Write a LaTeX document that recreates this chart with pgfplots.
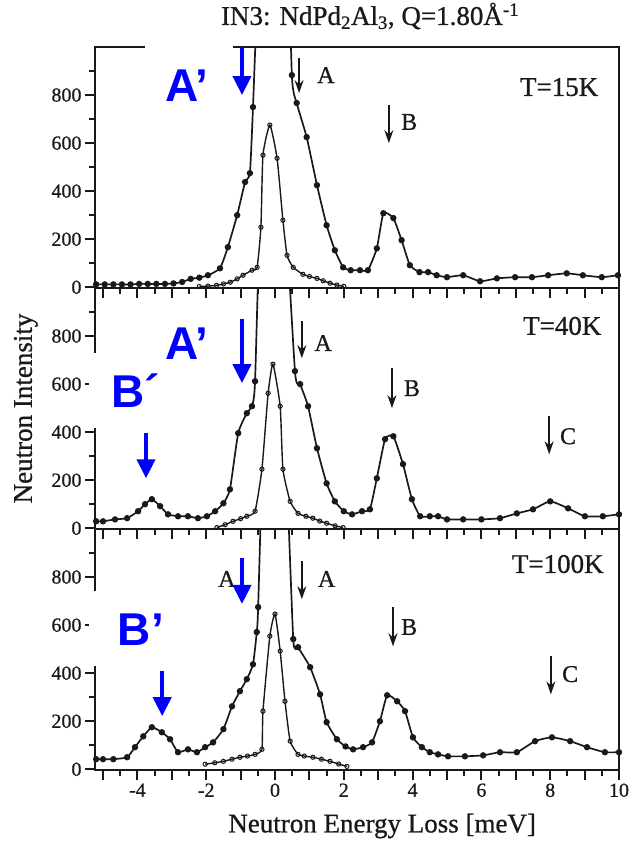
\documentclass[border=0pt]{standalone}
\usepackage{fontspec}
\setmainfont{Liberation Serif}[UprightFeatures={FakeBold=0.8}]
\newfontfamily\sansb{Liberation Sans}
\usepackage{pgfplots}
\pgfplotsset{compat=1.18}
\usetikzlibrary{arrows.meta}
\definecolor{arrblue}{RGB}{0,0,255}
\definecolor{ink}{RGB}{25,25,25}
\newcommand\fs[1]{\fontsize{#1}{#1}\selectfont}

\pgfplotsset{
  panel/.style={
    scale only axis, width=524bp, height=241bp,
    xmin=-5.233, xmax=10, ymin=-3, ymax=1000,
    axis line style={line width=1.9bp, ink},
    xtick={-5,-4,...,10}, minor xtick={-4.5,-3.5,...,9.5},
    xticklabels={,-4,,-2,,0,,2,,4,,6,,8,,10},
    ytick={0,200,...,800}, minor ytick={100,300,...,900},
    xtick align=outside, ytick align=outside,
    xtick pos=left, ytick pos=left,
    major tick length=10bp, minor tick length=6bp,
    every tick/.append style={line width=1.9bp, ink},
    ticklabel style={font=\fs{20bp}, text=ink},
    /pgf/number format/assume math mode=true,
    anchor=south west,
  },
  full/.style={line width=1.7bp, ink, smooth, tension=0.3, mark=*, mark size=2.3bp, mark options={solid, fill=ink}},
  open/.style={line width=1.4bp, ink, smooth, tension=0.3, mark=o, mark size=2.1bp, mark options={solid, line width=1bp, fill=white}},
}
\tikzset{
  barr/.style={-{Stealth[length=13bp,width=9bp]}, line width=1.5bp, ink},
  lbl/.style={font=\fs{24bp}, text=ink},
  tlbl/.style={font=\fs{27bp}, text=ink},
}

\begin{document}
\begin{tikzpicture}
\useasboundingbox (-95bp,-72bp) rectangle (540bp,770bp);

% ---------- bottom: T=100K ----------
\begin{axis}[panel, at={(0bp,0bp)},
  xlabel={Neutron Energy Loss [meV]},
  xlabel style={font=\fs{27bp}, text=ink, at={(axis description cs:0.548,0)}, anchor=center, yshift=-56bp}]
\addplot[full] coordinates {
(-5.2,42) (-5.0,42) (-4.7,42) (-4.3,50) (-4.07,92) (-3.83,137) (-3.58,175) (-3.29,154)
(-3.05,125) (-2.82,71) (-2.53,83) (-2.27,71) (-2.03,92) (-1.8,112) (-1.5,167) (-1.25,262)
(-1.02,325) (-0.82,375) (-0.64,437) (-0.53,571) (-0.49,675) (-0.3,1600) (0,2500) (0.3,1400)
(0.53,542) (0.67,508) (1.02,425) (1.31,312) (1.5,196) (1.8,125) (2.05,95) (2.27,83)
(2.56,92) (2.82,112) (3.05,200) (3.26,308) (3.55,283) (3.78,242) (4.01,133) (4.27,92)
(4.5,71) (4.74,62) (5.03,54) (5.52,54) (6.05,58) (6.54,71) (7.03,71) (7.56,117)
(8.05,133) (8.58,117) (9.07,92) (9.59,71) (10.0,71)};
\addplot[open] coordinates {
(-2.03,21) (-1.75,27) (-1.5,33) (-1.25,42) (-1.02,50) (-0.8,55) (-0.58,62) (-0.38,83)
(-0.35,242) (-0.15,554) (0,646) (0.15,492) (0.29,283) (0.44,117) (0.67,62) (0.85,55)
(1.1,50) (1.35,42) (1.6,33) (1.85,22) (2.09,12)};
\draw[barr] (axis cs:0.78,867) -- (axis cs:0.78,708);
\node[lbl] at (axis cs:1.5,792) {A};
\node[lbl] at (axis cs:-1.4,792) {A};
\draw[barr] (axis cs:3.43,675) -- (axis cs:3.43,512);
\node[lbl] at (axis cs:3.9,592) {B};
\draw[barr] (axis cs:8.02,471) -- (axis cs:8.02,312);
\node[lbl] at (axis cs:8.58,396) {C};
\node[tlbl] at (axis cs:8.22,854) {T=100K};
\coordinate (bbox1) at (axis cs:-5.4,742);
\coordinate (bbox2) at (axis cs:-2.53,429);
\coordinate (bBt) at (axis cs:-3.9,583);
\coordinate (bBa1) at (axis cs:-3.28,408);
\coordinate (bBa2) at (axis cs:-3.28,221);
\coordinate (bAa1) at (axis cs:-0.96,879);
\coordinate (bAa2) at (axis cs:-0.96,688);
\end{axis}

% ---------- middle: T=40K ----------
\begin{axis}[panel, at={(0bp,241bp)}, xticklabels={},
  ylabel={Neutron Intensity},
  ylabel style={font=\fs{27bp}, text=ink, at={(axis description cs:-0.132,0.5)}, anchor=center}]
\addplot[full] coordinates {
(-5.2,29) (-5.0,29) (-4.65,37) (-4.3,42) (-3.98,71) (-3.78,100) (-3.58,121) (-3.34,92)
(-3.11,58) (-2.82,50) (-2.53,50) (-2.24,42) (-1.98,50) (-1.74,71) (-1.5,104) (-1.31,162)
(-1.07,396) (-0.82,479) (-0.67,508) (-0.58,612) (-0.4,1500) (-0.1,2500) (0.2,1600)
(0.58,654) (0.73,600) (0.96,508) (1.22,333) (1.5,187) (1.74,112) (2.0,71) (2.24,58)
(2.53,71) (2.76,79) (2.96,208) (3.2,371) (3.44,383) (3.72,267) (3.98,121) (4.22,50)
(4.5,50) (4.74,50) (5.0,37) (5.47,37) (6.0,37) (6.54,42) (7.03,62) (7.5,79) (8.0,112)
(8.52,83) (9.01,50) (9.53,50) (10.0,58)};
\addplot[open] coordinates {
(-1.69,3) (-1.45,15) (-1.22,29) (-1.0,40) (-0.82,50) (-0.58,71) (-0.38,246) (-0.2,562)
(-0.06,683) (0.15,508) (0.23,246) (0.44,112) (0.67,62) (0.9,50) (1.1,42) (1.3,30)
(1.5,21) (1.75,10) (1.98,3)};
\draw[barr] (axis cs:0.78,862) -- (axis cs:0.78,708);
\node[lbl] at (axis cs:1.4,771) {A};
\draw[barr] (axis cs:3.4,667) -- (axis cs:3.4,500);
\node[lbl] at (axis cs:3.98,583) {B};
\draw[barr] (axis cs:7.97,467) -- (axis cs:7.97,308);
\node[lbl] at (axis cs:8.52,383) {C};
\node[tlbl] at (axis cs:8.35,842) {T=40K};
\coordinate (mbox1) at (axis cs:-5.4,729);
\coordinate (mbox2) at (axis cs:-2.47,417);
\coordinate (mAt) at (axis cs:-2.56,767);
\coordinate (mAa1) at (axis cs:-0.96,871);
\coordinate (mAa2) at (axis cs:-0.96,604);
\coordinate (mBt) at (axis cs:-4.04,571);
\coordinate (mBa1) at (axis cs:-3.75,396);
\coordinate (mBa2) at (axis cs:-3.75,208);
\end{axis}

% ---------- top: T=15K ----------
\begin{axis}[panel, at={(0bp,482bp)}, xticklabels={},
  title={IN3: NdPd\textsubscript{2}Al\textsubscript{3}, Q=1.80Å\textsuperscript{-1}},
  title style={font=\fs{27bp}, text=ink, at={(axis description cs:0.525,1)}, anchor=center, yshift=25bp}]
\addplot[full] coordinates {
(-5.2,12) (-4.95,12) (-4.7,12) (-4.45,12) (-4.2,12) (-3.95,14) (-3.7,14) (-3.45,14)
(-3.2,14) (-2.95,16) (-2.7,22) (-2.45,35) (-2.2,40) (-1.95,50) (-1.6,79) (-1.37,167)
(-1.1,300) (-0.87,438) (-0.73,475) (-0.64,750) (-0.4,1650) (-0.1,2500) (0.3,1800)
(0.49,883) (0.63,767) (0.92,625) (1.22,425) (1.5,258) (1.74,154) (1.98,83) (2.2,71)
(2.47,71) (2.7,71) (2.96,162) (3.15,308) (3.44,288) (3.68,196) (3.92,92) (4.2,63)
(4.45,63) (4.7,50) (5.0,42) (5.47,50) (5.96,25) (6.45,37) (6.98,42) (7.47,42) (7.94,50)
(8.48,58) (8.95,50) (9.5,42) (9.97,50)};
\addplot[open] coordinates {
(-2.2,3) (-1.95,5) (-1.7,8) (-1.5,14) (-1.3,21) (-1.1,35) (-0.93,50) (-0.67,71)
(-0.52,83) (-0.41,250) (-0.35,550) (-0.15,675) (0.06,537) (0.23,279) (0.35,133)
(0.53,83) (0.81,54) (1.0,45) (1.22,37) (1.4,27) (1.6,17) (1.8,9) (2.0,4)};
\draw[barr] (axis cs:0.7,954) -- (axis cs:0.7,808);
\node[lbl] at (axis cs:1.48,883) {A};
\draw[barr] (axis cs:3.31,758) -- (axis cs:3.31,600);
\node[lbl] at (axis cs:3.9,688) {B};
\node[tlbl] at (axis cs:8.26,833) {T=15K};
\coordinate (tbox1) at (axis cs:-3.78,1020);
\coordinate (tbox2) at (axis cs:-1.22,740);
\coordinate (tAt) at (axis cs:-2.56,838);
\coordinate (tAa1) at (axis cs:-0.96,1000);
\coordinate (tAa2) at (axis cs:-0.96,800);
\end{axis}

% ---------- blue overlays ----------
\fill[white] (tbox1) rectangle (tbox2);
\fill[white] (mbox1) rectangle (mbox2);
\fill[white] (bbox1) rectangle (bbox2);
\begin{scope}[font=\sansb\bfseries\fs{46bp}, text=arrblue]
\node[inner sep=0] at (tAt) {A’};
\node[inner sep=0] at (mAt) {A’};
\node[inner sep=0] at (mBt) {B´};
\node[inner sep=0] at (bBt) {B’};
\end{scope}
\begin{scope}[arrblue, line width=4bp, -{Triangle[length=19bp,width=18bp]}]
\draw (tAa1) -- (tAa2);
\draw (mAa1) -- (mAa2);
\draw (mBa1) -- (mBa2);
\draw (bAa1) -- (bAa2);
\draw (bBa1) -- (bBa2);
\end{scope}
\end{tikzpicture}
\end{document}
